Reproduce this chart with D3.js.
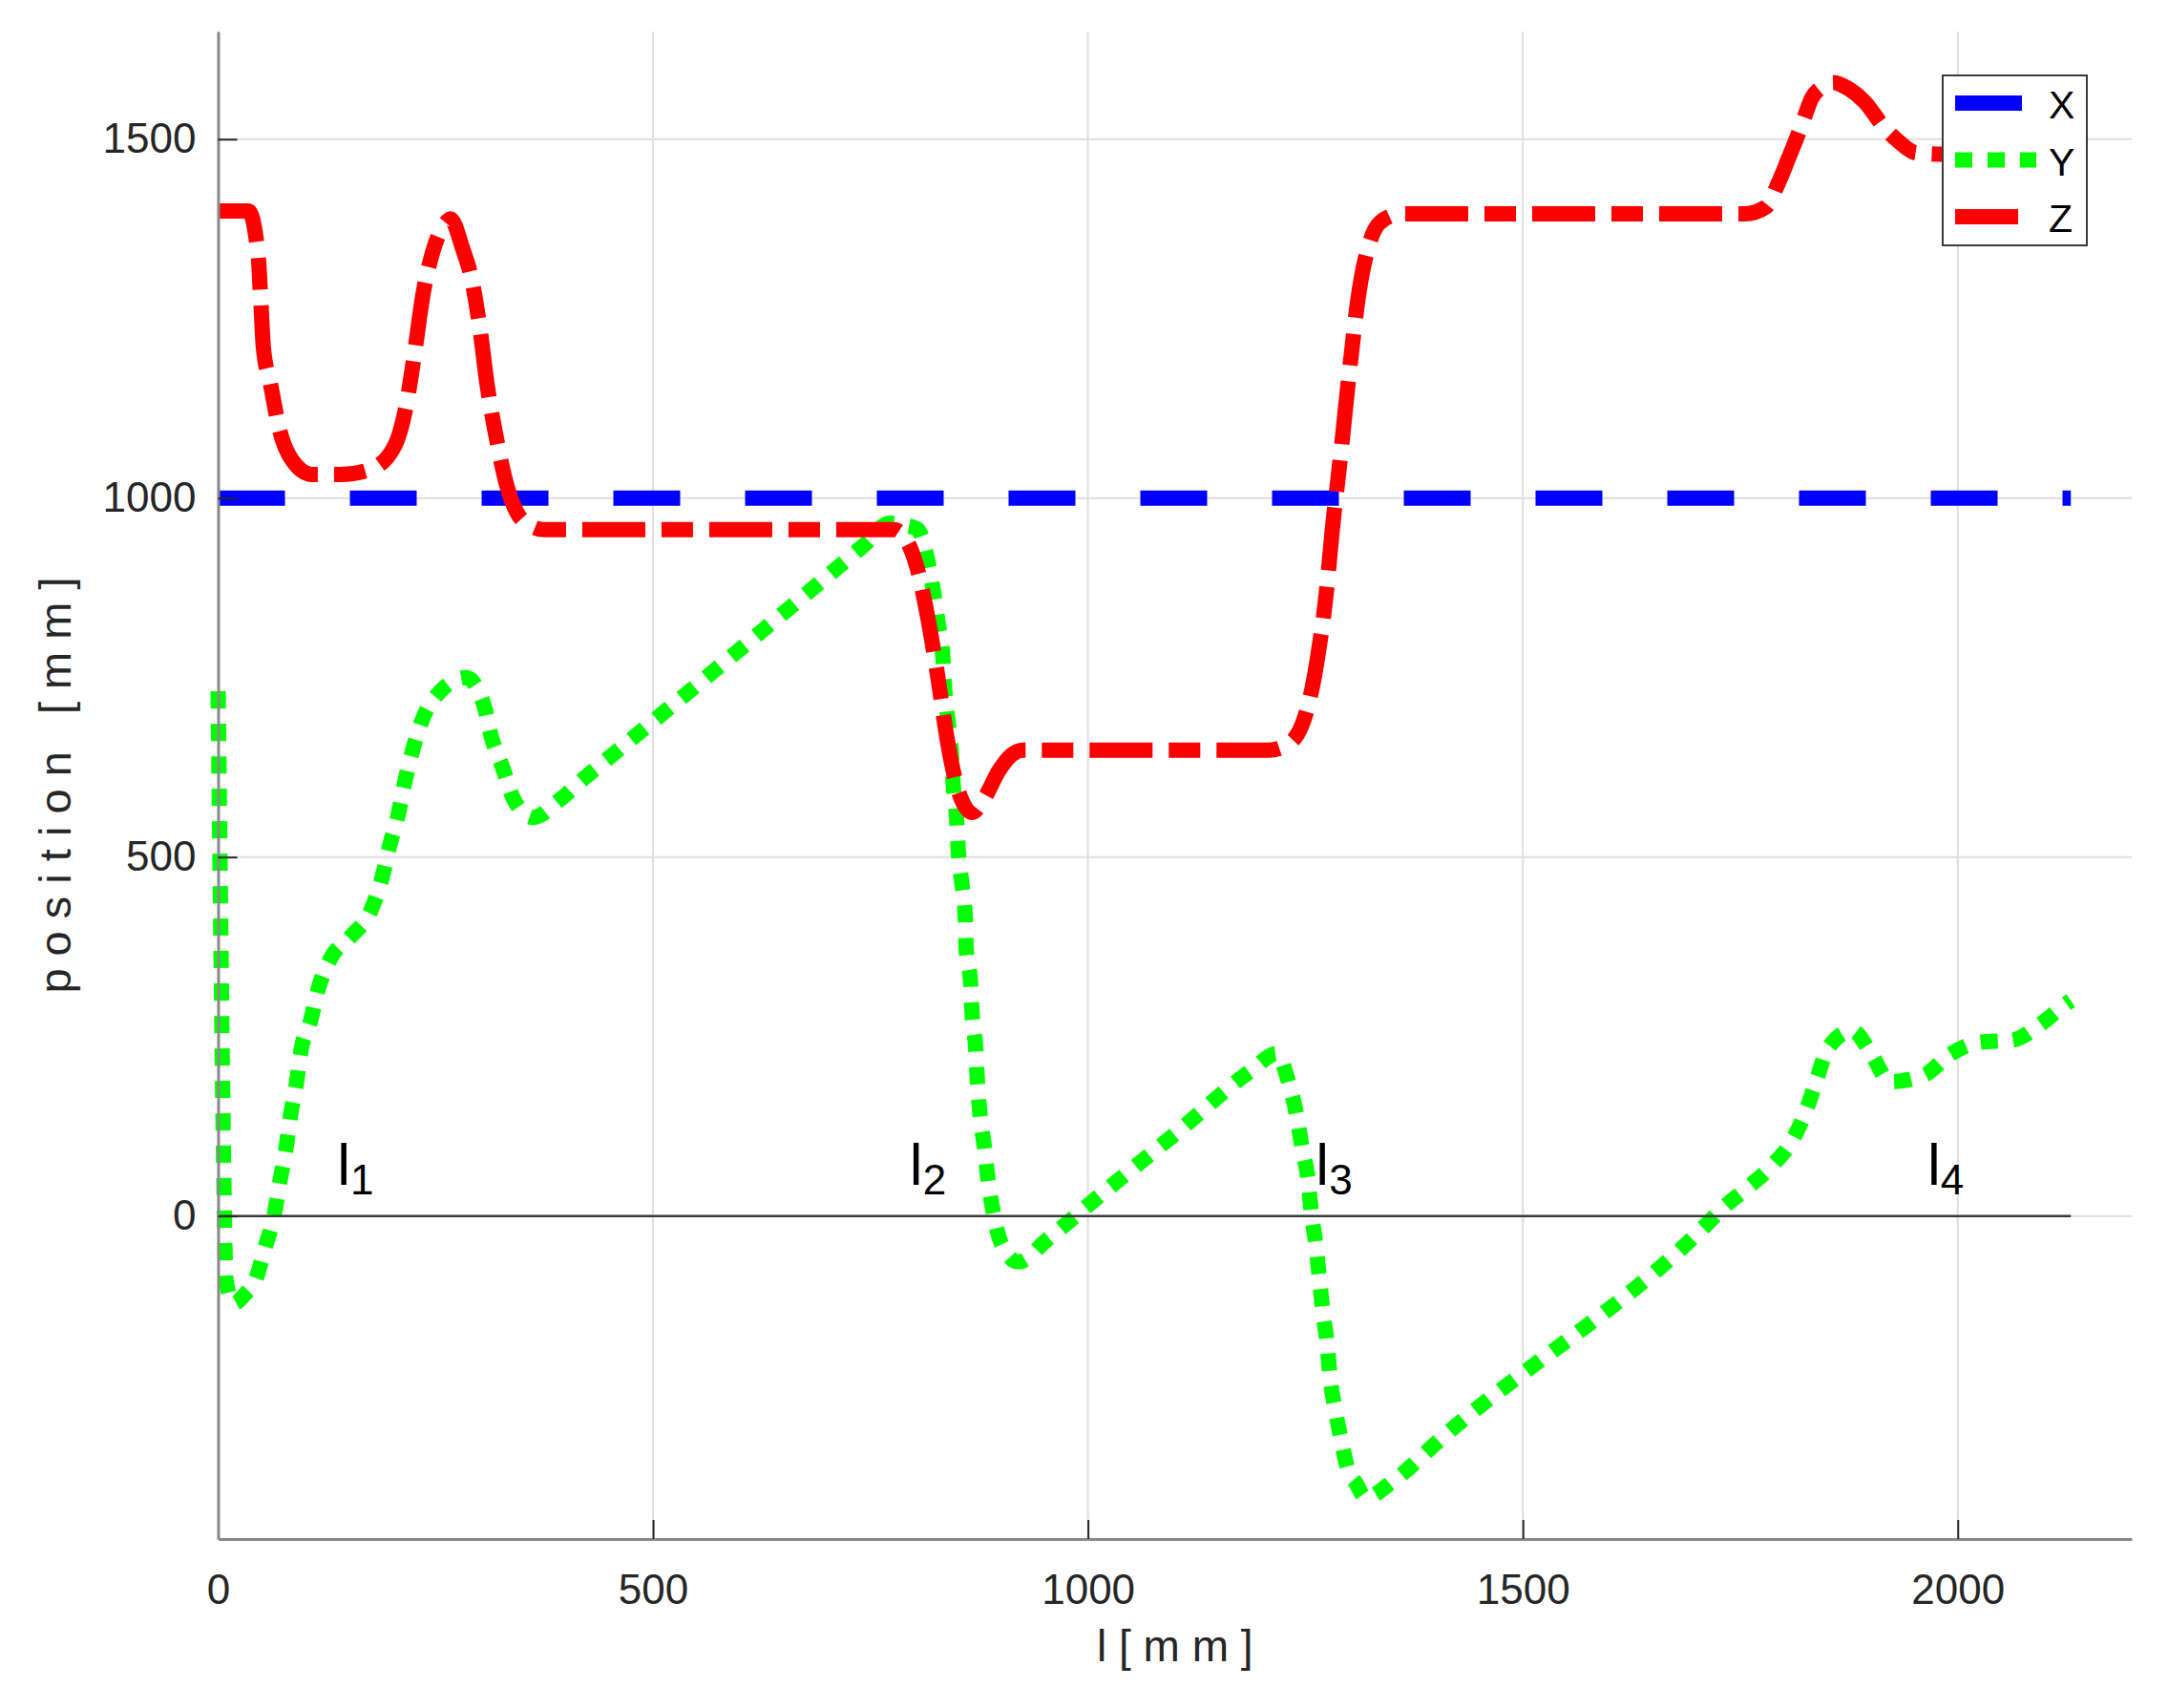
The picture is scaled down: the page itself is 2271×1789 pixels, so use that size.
<!DOCTYPE html>
<html>
<head>
<meta charset="utf-8">
<script src="https://cdn.jsdelivr.net/npm/d3@7"></script>
<style>
body { margin: 0; background: #fff; }
text { font-family: "Liberation Sans", Arial, sans-serif; }
</style>
</head>
<body>
<svg></svg>
<script>
// tick values
var xTicks = [0, 500, 1000, 1500, 2000];
var yTicks = [0, 500, 1000, 1500];

// X series (constant)
var lenX = [0, 2130];
var valX = [1000, 1000];

// Y series
var lenY = [0,3,6,9,18,30,43,54,64,71,78,84,90,95,106,115,128,153,175,188,197,207,214,223,234,254,285,305,314,327,340,362,393,422,452,743,772,790,804,815,822,828,833,835,839,843,845,849,851,855,859,860,865,867,871,873,876,881,885,892,901,920,953,1012,1100,1187,1217,1231,1240,1246,1253,1257,1262,1266,1270,1275,1278,1284,1291,1299,1308,1319,1352,1407,1707,1731,1760,1788,1811,1826,1838,1851,1879,1901,1922,1961,1991,2025,2063,2095,2124,2130];
var valY = [731,400,100,-89,-122,-110,-89,-44,-1,48,94,146,185,229,271,316,356,390,424,469,515,559,601,646,689,729,750,714,668,625,580,555,580,611,641,935,965,962,957,917,873,824,782,739,691,645,602,554,507,464,416,371,326,278,233,185,140,96,52,0,-40,-64,-33,27,114,202,226,185,140,96,51,3,-40,-85,-133,-178,-221,-268,-311,-354,-372,-392,-368,-309,-17,12,41,72,108,148,191,234,258,225,187,196,225,242,245,267,295,300];

// Z series
var lenZ = [0,35,46,49,52,60,71,85,108,141,175,203,217,225,236,248,262,267,281,292,301,309,320,332,343,360,375,777,792,804,815,827,839,851,867,880,898,912,925,1208,1231,1254,1264,1274,1281,1290,1300,1312,1325,1340,1360,1755,1780,1793,1805,1821,1832,1843,1857,1875,1893,1915,1932,1952,1981,2130];
var valZ = [1400,1400,1338,1277,1210,1160,1093,1053,1033,1033,1040,1073,1134,1195,1287,1348,1384,1389,1348,1302,1236,1160,1083,1017,981,961,956,956,940,901,839,754,658,592,562,580,621,642,649,649,658,715,778,868,957,1054,1170,1290,1360,1388,1396,1396,1406,1437,1472,1521,1557,1572,1579,1570,1552,1517,1497,1481,1479,1480];

// zero reference line
var lenZero = [0, 2130];
var valZero = [0, 0];

// section marks l1..l4
var markNames = ["1", "2", "3", "4"];
var markLen = [137, 795, 1262, 1965];
var markVal = 43;

var seriesNames = ["X", "Y", "Z"];
var seriesColors = ["#0000ff", "#00ff00", "#ff0000"];
var seriesDash = ["70,68", "18,16", "66,17,33,17"];

var width = 2271;
var height = 1789;
var plotLeft = 228.5, plotRight = 2233, plotTop = 33, plotBottom = 1612;

var svg = d3.select("svg")
  .attr("width", width)
  .attr("height", height);

var x = d3.scaleLinear().domain([0, 2200]).range([plotLeft, plotRight]);
var y = d3.scaleLinear().domain([-450, 1650]).range([plotBottom, plotTop]);

var toPoints = function(lens, vals) {
  return lens.map(function(d, i) { return [d, vals[i]]; });
};

var line = d3.line()
  .x(function(d) { return x(d[0]); })
  .y(function(d) { return y(d[1]); })
  .curve(d3.curveMonotoneX);

var drawGrid = function() {
  svg.selectAll("line.gx")
    .data(xTicks)
    .enter()
    .append("line")
    .attr("class", "gx")
    .attr("x1", function(d) { return x(d); })
    .attr("x2", function(d) { return x(d); })
    .attr("y1", plotTop)
    .attr("y2", plotBottom)
    .attr("stroke", "#dedede")
    .attr("stroke-width", 2);

  svg.selectAll("line.gy")
    .data(yTicks)
    .enter()
    .append("line")
    .attr("class", "gy")
    .attr("x1", plotLeft)
    .attr("x2", plotRight)
    .attr("y1", function(d) { return y(d); })
    .attr("y2", function(d) { return y(d); })
    .attr("stroke", "#dedede")
    .attr("stroke-width", 2);
};

var drawLines = function() {
  var all = [toPoints(lenX, valX), toPoints(lenY, valY), toPoints(lenZ, valZ)];
  svg.selectAll("path.series")
    .data(all)
    .enter()
    .append("path")
    .attr("class", "series")
    .attr("d", line)
    .attr("fill", "none")
    .attr("stroke", function(d, i) { return seriesColors[i]; })
    .attr("stroke-width", 16)
    .attr("stroke-dasharray", function(d, i) { return seriesDash[i]; })
    .attr("stroke-linecap", "butt");

  svg.append("path")
    .datum(toPoints(lenZero, valZero))
    .attr("d", line)
    .attr("fill", "none")
    .attr("stroke", "#3a3a3a")
    .attr("stroke-width", 2.5);
};

var drawAxes = function() {
  var xAxis = svg.append("g")
    .attr("transform", "translate(0," + plotBottom + ")")
    .call(d3.axisBottom(x).tickValues(xTicks).tickFormat(d3.format("d"))
      .tickSize(-20).tickSizeOuter(0).tickPadding(37));
  var yAxis = svg.append("g")
    .attr("transform", "translate(" + plotLeft + ",0)")
    .call(d3.axisLeft(y).tickValues(yTicks).tickFormat(d3.format("d"))
      .tickSize(-20).tickSizeOuter(0).tickPadding(23));

  [xAxis, yAxis].forEach(function(g) {
    g.select(".domain").attr("stroke", "#8a8a8a").attr("stroke-width", 3);
    g.selectAll(".tick line").attr("stroke", "#262626").attr("stroke-width", 2);
    g.selectAll(".tick text")
      .attr("fill", "#262626")
      .style("font-size", "44px")
      .style("font-family", "'Liberation Sans', Arial, sans-serif");
  });

  svg.append("text")
    .attr("x", (plotLeft + plotRight) / 2)
    .attr("y", 1740)
    .attr("text-anchor", "middle")
    .attr("fill", "#262626")
    .style("font-size", "46px")
    .text("l [ m m ]");

  svg.append("text")
    .attr("transform", "translate(74," + ((plotTop + plotBottom) / 2) + ") rotate(-90)")
    .attr("text-anchor", "middle")
    .attr("fill", "#262626")
    .style("font-size", "47px")
    .style("white-space", "pre")
    .text("p o s i t i o n   [ m m ]");
};

var drawMarks = function() {
  var t = svg.selectAll("text.mark")
    .data(markNames)
    .enter()
    .append("text")
    .attr("class", "mark")
    .attr("x", function(d, i) { return x(markLen[i]); })
    .attr("y", y(markVal))
    .attr("fill", "#000")
    .style("font-size", "62px");
  t.append("tspan").text("l");
  t.append("tspan")
    .attr("dy", 10)
    .style("font-size", "44px")
    .text(function(d) { return d; });
};

var drawLegend = function() {
  var sampleEnd = [2118, 2133, 2114];
  var g = svg.append("g");
  g.append("rect")
    .attr("x", 2035)
    .attr("y", 79)
    .attr("width", 151)
    .attr("height", 178)
    .attr("fill", "#fff")
    .attr("stroke", "#3c3c3c")
    .attr("stroke-width", 2);

  g.selectAll("line.lg")
    .data(seriesNames)
    .enter()
    .append("line")
    .attr("class", "lg")
    .attr("x1", 2048)
    .attr("x2", function(d, i) { return sampleEnd[i]; })
    .attr("y1", function(d, i) { return 108 + i * 59.5; })
    .attr("y2", function(d, i) { return 108 + i * 59.5; })
    .attr("stroke", function(d, i) { return seriesColors[i]; })
    .attr("stroke-width", 16)
    .attr("stroke-dasharray", function(d, i) { return seriesDash[i]; });

  g.selectAll("text.lg")
    .data(seriesNames)
    .enter()
    .append("text")
    .attr("class", "lg")
    .attr("x", 2146)
    .attr("y", function(d, i) { return 124 + i * 59.5; })
    .attr("fill", "#000")
    .style("font-size", "41px")
    .text(function(d) { return d; });
};

drawGrid();
drawLines();
drawAxes();
drawMarks();
drawLegend();
</script>
</body>
</html>
